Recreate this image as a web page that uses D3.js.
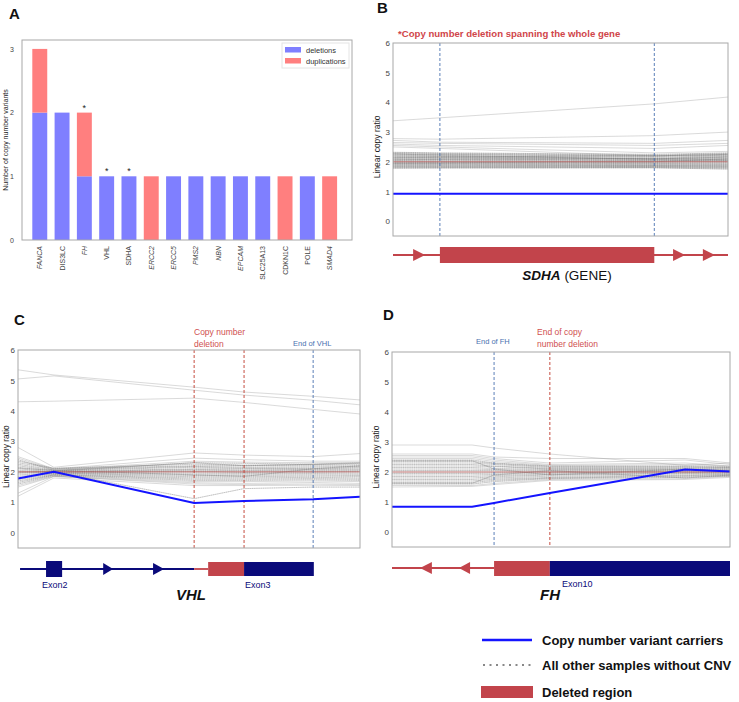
<!DOCTYPE html>
<html><head><meta charset="utf-8">
<script src="https://cdn.jsdelivr.net/npm/d3@7/dist/d3.min.js"></script>
<style>body{margin:0;background:#fff}svg{display:block;font-family:"Liberation Sans",Arial,sans-serif}</style>
</head><body>
<svg id="c" width="739" height="702"></svg>
<script>
// ---------- DATA ----------
const genes = ["FANCA","DIS3LC","FH","VHL","SDHA","ERCC2","ERCC5","PMS2","NBN","EPCAM","SLC25A13","CDKN1C","POLE","SMAD4"];
const deletions    = [2,2,1,1,1,0,1,1,1,1,1,0,1,0];
const duplications = [1,0,1,0,0,1,0,0,0,0,0,1,0,1];
const starred = ["FH","VHL","SDHA"];
const italicGenes = ["FANCA","FH","ERCC2","ERCC5","PMS2","NBN","EPCAM","SMAD4"];
const countTicks = [0,1,2,3];
const ratioTicks = [0,1,2,3,4,5,6];

// Panel B (SDHA) positions (relative genomic coordinate 0-100)
const bPos = [0,14,78,100];
const bCarrier = [0.92,0.92,0.92,0.92];
const bGray = [
[3.38,3.48,3.95,4.18],[2.78,2.76,2.88,3.0],[2.72,2.66,2.62,2.72],[2.65,2.62,2.55,2.62],
[2.6,2.55,2.45,2.55],[2.55,2.5,2.3,2.35],[2.5,2.45,2.2,2.25],[2.32,2.3,2.25,2.3],
[2.3,2.28,2.22,2.28],[2.28,2.25,2.2,2.25],[2.25,2.24,2.18,2.22],[2.22,2.2,2.15,2.2],
[2.2,2.18,2.12,2.18],[2.18,2.16,2.1,2.15],[2.15,2.14,2.1,2.12],[2.12,2.12,2.08,2.1],
[2.1,2.1,2.05,2.08],[2.08,2.07,2.04,2.06],[2.05,2.05,2.02,2.04],[2.03,2.02,2.0,2.02],
[2.0,2.0,1.98,2.0],[1.98,1.98,1.96,1.97],[1.96,1.95,1.94,1.95],[1.94,1.94,1.92,1.92],
[1.92,1.92,1.9,1.9],[1.9,1.9,1.88,1.88],[1.88,1.88,1.87,1.86],[1.86,1.86,1.85,1.84],
[1.84,1.84,1.84,1.82],[1.82,1.82,1.82,1.8],[1.8,1.8,1.8,1.78],[1.78,1.79,1.8,1.75],
[2.14,2.16,2.2,2.24],[2.06,2.08,2.1,2.16],[1.95,1.97,2.0,2.1],[2.26,2.22,2.08,2.05]
];
const bBlueMarks = [14,78];
const bGeneLine = [0,100];
const bExons = [[14,78,"del"]];
const bArrows = [[6,9.6],[83.6,87.2],[92.5,96.1]];

// Panel C (VHL)
const cPos = [0,10.5,51.5,66.1,86.3,100];
const cCarrier = [1.78,2.0,0.98,1.04,1.1,1.18];
const cGray = [
[5.35,5.18,4.78,4.62,4.48,4.36],[5.05,5.15,4.68,4.52,4.35,4.2],[4.3,4.32,4.42,4.28,4.05,3.9],
[2.8,2.15,2.62,2.55,2.5,2.6],[2.5,2.1,2.45,2.4,2.35,2.35],[2.45,2.08,2.35,2.32,2.3,2.3],
[2.4,2.05,2.3,2.28,2.25,2.28],[2.35,2.12,2.25,2.22,2.24,2.25],[2.3,2.1,2.2,2.2,2.2,2.2],
[2.25,2.06,2.18,2.15,2.16,2.18],[2.2,2.04,2.15,2.12,2.12,2.15],[2.15,2.02,2.1,2.1,2.1,2.12],
[2.1,2.0,2.08,2.06,2.08,2.08],[2.05,2.0,2.05,2.04,2.05,2.05],[2.0,1.98,2.02,2.0,2.02,2.02],
[1.95,1.98,2.0,1.98,2.0,2.0],[1.9,1.96,1.96,1.95,1.97,1.96],[1.85,1.95,1.92,1.92,1.94,1.92],
[1.8,1.94,1.88,1.88,1.9,1.88],[1.75,1.92,1.84,1.84,1.86,1.85],[1.7,1.9,1.8,1.8,1.82,1.8],
[1.65,1.9,1.76,1.76,1.78,1.76],[1.6,1.88,1.72,1.72,1.74,1.72],[1.55,1.86,1.68,1.68,1.7,1.68],
[1.5,1.85,1.64,1.62,1.65,1.62],[1.3,1.85,1.6,1.58,1.6,1.58],[1.2,1.8,1.55,1.55,1.56,1.55],
[2.0,2.0,1.12,1.45,1.5,1.5],[1.98,2.02,2.3,2.2,2.25,2.3],[2.12,2.05,1.9,1.85,2.1,2.2]
];
const cRedMarks = [51.5,66.1];
const cBlueMarks = [86.3];

// Panel D (FH)
const dPos = [0,23.7,30.2,46.7,86.7,100];
const dCarrier = [0.84,0.84,0.97,1.3,2.08,2.02];
const dGray = [
[2.9,2.9,2.8,2.6,2.22,2.3],[2.6,2.6,2.5,2.45,2.45,2.3],[2.55,2.55,2.45,2.3,2.4,2.25],
[2.5,2.5,2.4,2.25,2.3,2.2],[2.45,2.45,2.35,2.22,2.25,2.2],[2.4,2.4,2.3,2.2,2.2,2.18],
[2.35,2.35,2.28,2.18,2.18,2.15],[2.3,2.3,2.25,2.15,2.15,2.15],[2.25,2.25,2.2,2.12,2.12,2.12],
[2.2,2.2,2.18,2.1,2.1,2.1],[2.15,2.15,2.12,2.08,2.08,2.08],[2.1,2.1,2.08,2.05,2.06,2.05],
[2.05,2.05,2.05,2.02,2.04,2.04],[2.0,2.0,2.0,2.0,2.02,2.02],[1.95,1.95,1.96,1.98,2.0,2.0],
[1.9,1.9,1.92,1.95,1.98,1.98],[1.85,1.85,1.88,1.92,1.96,1.96],[1.8,1.8,1.84,1.9,1.94,1.94],
[1.75,1.75,1.8,1.86,1.9,1.92],[1.7,1.7,1.76,1.82,1.88,1.9],[1.65,1.65,1.72,1.8,1.85,1.88],
[1.6,1.6,1.68,1.78,1.82,1.86],[1.55,1.55,1.62,1.75,1.78,1.85],[1.5,1.52,1.58,1.72,1.75,1.82],
[2.38,2.38,2.1,1.9,2.1,2.05],[1.62,1.62,1.9,2.05,1.8,1.9]
];
const dRedMarks = [46.7];
const dBlueMarks = [30.2];

// ---------- STYLE ----------
const BLUE_DEL = "#7f7fff", RED_DUP = "#ff7f7f";
const CARRIER = "#1414ff", NAVY = "#0a0a7a", DELRED = "#c2444b";
const FRAME = "#a8a8a8", TICK = "#444";

const svg = d3.select("#c");

function panelLabel(t,x,y){
  svg.append("text").attr("x",x).attr("y",y).attr("font-size",15).attr("font-weight","bold").attr("fill","#111").text(t);
}

// ---------- PANEL A ----------
(function(){
  const L=22,R=352,T=40,B=240;
  const x = d3.scaleBand().domain(genes).range([32.3,337.1]).paddingInner(0.33).paddingOuter(0);
  const y = d3.scaleLinear().domain([0,3.14]).range([B,T]);
  const g = svg.append("g");
  const stack = d3.stack().keys(["del","dup"])(genes.map((k,i)=>({gene:k,del:deletions[i],dup:duplications[i]})));
  const cols = [BLUE_DEL,RED_DUP];
  stack.forEach((s,si)=>{
    g.selectAll(null).data(s).enter().append("rect")
     .attr("x",d=>x(d.data.gene)).attr("width",x.bandwidth())
     .attr("y",d=>y(d[1])).attr("height",d=>y(d[0])-y(d[1]))
     .attr("fill",cols[si]);
  });
  g.selectAll(null).data(genes.filter(k=>starred.includes(k))).enter().append("text")
   .attr("x",k=>x(k)+x.bandwidth()/2).attr("y",k=>{const i=genes.indexOf(k);return y(deletions[i]+duplications[i])-2;})
   .attr("text-anchor","middle").attr("font-size",9).attr("fill","#222").text("*");
  g.append("rect").attr("x",L).attr("y",T).attr("width",R-L).attr("height",B-T).attr("fill","none").attr("stroke",FRAME);
  const ax = g.append("g").attr("transform",`translate(${L},0)`).call(d3.axisLeft(y).tickValues(countTicks).tickSize(0).tickPadding(8).tickFormat(d3.format("d")));
  ax.select(".domain").remove();
  ax.selectAll("text").attr("font-size",7).attr("fill",TICK).attr("font-family","Liberation Sans, Arial");
  g.selectAll(null).data(genes).enter().append("text")
   .attr("transform",k=>`translate(${x(k)+x.bandwidth()/2+2.5},246) rotate(-90)`)
   .attr("text-anchor","end").attr("font-size",7).attr("fill",TICK)
   .attr("font-style",k=>italicGenes.includes(k)?"italic":"normal").text(k=>k);
  g.append("text").attr("transform",`translate(8,${(T+B)/2}) rotate(-90)`).attr("text-anchor","middle")
   .attr("font-size",7).attr("fill","#222").text("Number of copy number variants");
  // legend
  g.append("rect").attr("x",282).attr("y",43).attr("width",67).attr("height",25).attr("fill","#fff").attr("stroke","#e4e4e4");
  [["deletions",BLUE_DEL],["duplications",RED_DUP]].forEach((d,i)=>{
    g.append("rect").attr("x",285).attr("y",47+i*11).attr("width",16).attr("height",5.5).attr("fill",d[1]);
    g.append("text").attr("x",306).attr("y",52.5+i*11).attr("font-size",7.5).attr("fill","#333").text(d[0]);
  });
  panelLabel("A",9,19);
})();

// ---------- LINE PANELS ----------
function linePanel(o){
  const x = d3.scaleLinear().domain([0,100]).range([o.L,o.R]);
  const y = d3.scaleLinear().domain([-0.5,6]).range([o.B,o.T]);
  const g = svg.append("g");
  const line = d3.line().x((d,i)=>x(o.pos[i])).y(d=>y(d));
  g.append("g").selectAll("path").data(o.gray).enter().append("path")
    .attr("d",line).attr("fill","none").attr("stroke","#8a8a8a").attr("stroke-width",0.8).attr("stroke-opacity",0.4);
  g.append("g").selectAll("path").data(o.gray.filter(r=>r[0]<2.45&&r[0]>1.55)).enter().append("path")
    .attr("d",line).attr("fill","none").attr("stroke","#777").attr("stroke-width",0.9).attr("stroke-opacity",0.3)
    .attr("stroke-dasharray","1,1.2");
  g.append("path").attr("d",line(o.pos.map(()=>2))).attr("fill","none").attr("stroke","#c0504d").attr("stroke-width",0.8).attr("stroke-opacity",0.85);
  (o.red||[]).forEach(v=>g.append("line").attr("x1",x(v)).attr("x2",x(v)).attr("y1",o.T).attr("y2",o.B)
    .attr("stroke","#c0392b").attr("stroke-width",0.9).attr("stroke-dasharray","3,2"));
  (o.blue||[]).forEach(v=>g.append("line").attr("x1",x(v)).attr("x2",x(v)).attr("y1",o.T).attr("y2",o.B)
    .attr("stroke","#4a72b0").attr("stroke-width",0.9).attr("stroke-dasharray","3,2"));
  g.append("path").attr("d",line(o.carrier)).attr("fill","none").attr("stroke",CARRIER).attr("stroke-width",2);
  g.append("rect").attr("x",o.L).attr("y",o.T).attr("width",o.R-o.L).attr("height",o.B-o.T).attr("fill","none").attr("stroke",FRAME);
  const ax = g.append("g").attr("transform",`translate(${o.L},0)`).call(d3.axisLeft(y).tickValues(ratioTicks).tickSize(0).tickPadding(3).tickFormat(d3.format("d")));
  ax.select(".domain").remove();
  ax.selectAll("text").attr("font-size",8).attr("fill",TICK).attr("font-family","Liberation Sans, Arial");
  g.append("text").attr("transform",`translate(${o.ylx},${y(2.5)}) rotate(-90)`).attr("text-anchor","middle")
    .attr("font-size",8.5).attr("fill","#222").text("Linear copy ratio");
  return {x,y,g};
}

function triangle(g,x,y,x0,x1,dir,col){
  const a=x(x0),b=x(x1);
  const pts = dir>0 ? [[a,y-6],[b,y],[a,y+6]] : [[b,y-6],[a,y],[b,y+6]];
  g.append("path").attr("d",d3.line()(pts)+"Z").attr("fill",col);
}

// Panel B
(function(){
  const p = linePanel({L:393,R:728,T:43,B:236,pos:bPos,gray:bGray,carrier:bCarrier,blue:bBlueMarks,ylx:380});
  const {x,g} = p;
  const ty=255;
  g.append("line").attr("x1",x(bGeneLine[0])).attr("x2",x(bGeneLine[1])).attr("y1",ty).attr("y2",ty).attr("stroke",DELRED).attr("stroke-width",1.8);
  bExons.forEach(e=>g.append("rect").attr("x",x(e[0])).attr("width",x(e[1])-x(e[0])).attr("y",247).attr("height",16).attr("fill",DELRED));
  bArrows.forEach(a=>triangle(g,x,ty,a[0],a[1],1,DELRED));
  const t = g.append("text").attr("x",567).attr("y",280).attr("text-anchor","middle").attr("font-size",13.5).attr("fill","#111");
  t.append("tspan").attr("font-weight","bold").attr("font-style","italic").text("SDHA");
  t.append("tspan").text(" (GENE)");
  g.append("text").attr("x",398).attr("y",37).attr("font-size",9.6).attr("font-weight","bold").attr("fill","#d0454a")
    .text("*Copy number deletion spanning the whole gene");
  panelLabel("B",377,13);
})();

// Panel C
(function(){
  const p = linePanel({L:18,R:360,T:350,B:548,pos:cPos,gray:cGray,carrier:cCarrier,red:cRedMarks,blue:cBlueMarks,ylx:8.5});
  const {x,g} = p;
  const ty=569;
  g.append("line").attr("x1",x(0.6)).attr("x2",x(51.5)).attr("y1",ty).attr("y2",ty).attr("stroke",NAVY).attr("stroke-width",1.8);
  g.append("line").attr("x1",x(51.5)).attr("x2",x(55.6)).attr("y1",ty).attr("y2",ty).attr("stroke",DELRED).attr("stroke-width",1.8);
  g.append("rect").attr("x",x(8.2)).attr("width",x(12.9)-x(8.2)).attr("y",561).attr("height",16).attr("fill",NAVY);
  g.append("rect").attr("x",x(55.6)).attr("width",x(66.1)-x(55.6)).attr("y",562).attr("height",14).attr("fill",DELRED);
  g.append("rect").attr("x",x(66.1)).attr("width",x(86.5)-x(66.1)).attr("y",562).attr("height",14).attr("fill",NAVY);
  triangle(g,x,ty,24.9,27.8,1,NAVY);
  triangle(g,x,ty,39.5,42.7,1,NAVY);
  g.append("text").attr("x",42).attr("y",588).attr("font-size",9).attr("fill",NAVY).text("Exon2");
  g.append("text").attr("x",245).attr("y",588).attr("font-size",9).attr("fill",NAVY).text("Exon3");
  g.append("text").attr("x",191).attr("y",600).attr("text-anchor","middle").attr("font-size",15).attr("font-weight","bold").attr("font-style","italic").attr("fill","#111").text("VHL");
  g.append("text").attr("x",194).attr("y",335).attr("font-size",8.5).attr("fill","#d05050").text("Copy number");
  g.append("text").attr("x",194).attr("y",347).attr("font-size",8.5).attr("fill","#d05050").text("deletion");
  g.append("text").attr("x",293).attr("y",346).attr("font-size",7.5).attr("fill","#4a72b0").text("End of VHL");
  panelLabel("C",14,325);
})();

// Panel D
(function(){
  const p = linePanel({L:392,R:730,T:352,B:547,pos:dPos,gray:dGray,carrier:dCarrier,red:dRedMarks,blue:dBlueMarks,ylx:379});
  const {x,g} = p;
  const ty=568;
  g.append("line").attr("x1",x(0)).attr("x2",x(30.2)).attr("y1",ty).attr("y2",ty).attr("stroke",DELRED).attr("stroke-width",1.8);
  triangle(g,x,ty,8.3,11.8,-1,DELRED);
  triangle(g,x,ty,19.8,23.1,-1,DELRED);
  g.append("rect").attr("x",x(30.2)).attr("width",x(46.7)-x(30.2)).attr("y",561).attr("height",15).attr("fill",DELRED);
  g.append("rect").attr("x",x(46.7)).attr("width",x(100)-x(46.7)).attr("y",561).attr("height",15).attr("fill",NAVY);
  g.append("text").attr("x",562).attr("y",587).attr("font-size",9).attr("fill",NAVY).text("Exon10");
  g.append("text").attr("x",550).attr("y",600).attr("text-anchor","middle").attr("font-size",15).attr("font-weight","bold").attr("font-style","italic").attr("fill","#111").text("FH");
  g.append("text").attr("x",476).attr("y",344).attr("font-size",7.5).attr("fill","#4a72b0").text("End of FH");
  g.append("text").attr("x",537).attr("y",335).attr("font-size",8.5).attr("fill","#d05050").text("End of copy");
  g.append("text").attr("x",537).attr("y",347).attr("font-size",8.5).attr("fill","#d05050").text("number deletion");
  panelLabel("D",383,320);
})();

// ---------- BOTTOM LEGEND ----------
(function(){
  const g = svg.append("g");
  g.append("line").attr("x1",482).attr("x2",532).attr("y1",640).attr("y2",640).attr("stroke",CARRIER).attr("stroke-width",2.5);
  g.append("line").attr("x1",483).attr("x2",531).attr("y1",665).attr("y2",665).attr("stroke","#888").attr("stroke-width",2).attr("stroke-dasharray","2,4.5");
  g.append("rect").attr("x",481).attr("y",686).attr("width",52).attr("height",12).attr("fill",DELRED);
  [["Copy number variant carriers",645],["All other samples without CNV",670],["Deleted region",697]].forEach(d=>
    g.append("text").attr("x",542).attr("y",d[1]).attr("font-size",13).attr("font-weight","bold").attr("fill","#111").text(d[0]));
})();
</script>
</body></html>
